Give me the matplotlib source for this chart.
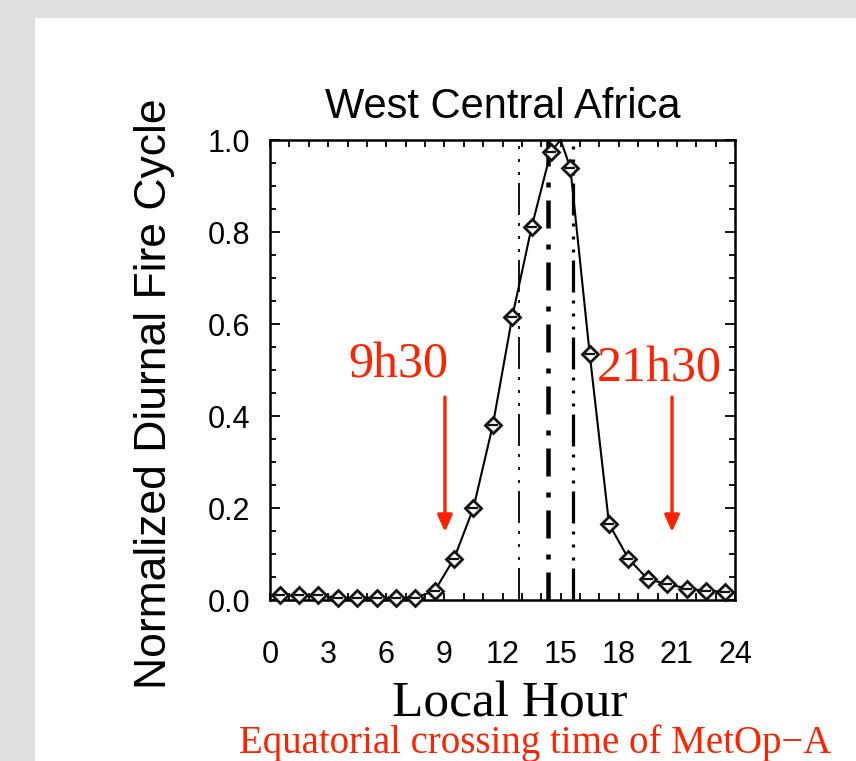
import matplotlib
matplotlib.use("Agg")
import matplotlib.pyplot as plt
from matplotlib.patches import Rectangle
from matplotlib.ticker import MultipleLocator

# ---- data ----
marker_hours = [0.5, 1.5, 2.5, 3.5, 4.5, 5.5, 6.5, 7.5, 8.5, 9.5, 10.5, 11.5,
                12.5, 13.5, 14.5, 15.5, 16.5, 17.5, 18.5, 19.5, 20.5, 21.5, 22.5, 23.5]
marker_values = [0.010, 0.010, 0.010, 0.005, 0.005, 0.005, 0.005, 0.005, 0.020, 0.090,
                 0.200, 0.380, 0.615, 0.810, 0.975, 0.940, 0.535, 0.165, 0.090, 0.045,
                 0.035, 0.025, 0.020, 0.018]
# drawn curve (smooth line through the markers, peaking near 15 h)
curve_hours = [0.0, 0.5, 1.5, 2.5, 3.5, 4.5, 5.5, 6.5, 7.5, 8.5, 9.5, 10.5, 11.5,
               12.5, 13.5, 14.5, 15.0, 15.5, 16.5, 17.5, 18.5, 19.5, 20.5, 21.5,
               22.5, 23.5, 24.0]
curve_values = [0.010, 0.010, 0.010, 0.010, 0.005, 0.005, 0.005, 0.005, 0.005, 0.020,
                0.090, 0.200, 0.380, 0.615, 0.810, 0.975, 1.000, 0.940, 0.535, 0.165,
                0.090, 0.045, 0.035, 0.025, 0.020, 0.018, 0.015]
# vertical reference lines (local hour)
vline_thin_hour = 12.85
vline_thick_hour = 14.35
vline_right_hour = 15.65
# MetOp-A crossing-time annotations
crossing_labels = ["9h30", "21h30"]
crossing_label_x = [6.65, 20.1]
crossing_label_y = [0.483, 0.474]
arrow_x = [9.03, 20.75]
arrow_top = 0.441
arrow_tip = 0.148

xticks = [0, 3, 6, 9, 12, 15, 18, 21, 24]
yticks = [0.0, 0.2, 0.4, 0.6, 0.8, 1.0]

plt.rcParams['lines.scale_dashes'] = False
tick_family, tick_size = 'Liberation Sans', 22

W, H = 856, 761
fig = plt.figure(figsize=(W / 100, H / 100), dpi=100)
fig.patch.set_facecolor('#e0e0e0')
fig.patches.append(Rectangle((35 / W, 0), 1 - 35 / W, 1 - 18 / H,
                             transform=fig.transFigure, facecolor='white',
                             edgecolor='none', zorder=-5))

ax = fig.add_axes([270 / W, 1 - 600 / H, 465 / W, 460 / H])
ax.set_zorder(2)
ax.set_facecolor('white')
ax.set_xlim(0, 24)
ax.set_ylim(0, 1)

# vertical lines
px = 0.72  # points per pixel
ax.axvline(vline_thin_hour, color='black', lw=1.8 * px,
           dashes=(32 * px, 8 * px, 3 * px, 10 * px, 3 * px, 10 * px, 3 * px, 8 * px))
ax.axvline(vline_thick_hour, color='black', lw=4.5 * px,
           dashes=(28 * px, 13 * px, 5 * px, 16 * px))
ax.axvline(vline_right_hour, color='black', lw=3.2 * px,
           dashes=(32 * px, 8 * px, 3 * px, 10 * px, 3 * px, 10 * px, 3 * px, 8 * px))

# curve and markers
ax.plot(curve_hours, curve_values, color='black', lw=1.5, clip_on=False)
ax.plot(marker_hours, marker_values, linestyle='none', marker='D', markersize=8.5,
        markerfacecolor='white', markeredgecolor='#111111', markeredgewidth=2.0,
        clip_on=False, zorder=3)
ax.plot(marker_hours, marker_values, linestyle='none', marker='_', markersize=7,
        markeredgecolor='#111111', markeredgewidth=1.6, clip_on=False, zorder=4)

red = '#ff2200'
for lab, lx, ly in zip(crossing_labels, crossing_label_x, crossing_label_y):
    ax.text(lx, ly, lab, color=red, fontsize=36, family='Liberation Serif',
            ha='center', va='baseline')
for axx in arrow_x:
    ax.annotate('', xy=(axx, arrow_tip), xytext=(axx, arrow_top),
                arrowprops=dict(arrowstyle='-|>,head_length=1.0,head_width=0.45',
                                color=red, lw=2.4, shrinkA=0, shrinkB=0))

# ticks
ax.set_xticks(xticks)
ax.set_yticks(yticks)
ax.set_xticklabels([str(t) for t in xticks])
ax.set_yticklabels([f"{t:.1f}" for t in yticks])
ax.xaxis.set_minor_locator(MultipleLocator(1))
ax.yaxis.set_minor_locator(MultipleLocator(0.05))
ax.tick_params(axis='both', which='both', direction='in', top=True, right=True,
               width=1.3, colors='black')
ax.tick_params(axis='x', which='major', length=5, pad=29, labelsize=tick_size)
ax.tick_params(axis='x', which='minor', length=5)
ax.tick_params(axis='y', which='major', length=7.5, pad=14, labelsize=tick_size)
ax.tick_params(axis='y', which='minor', length=4.5)
for lab in ax.get_xticklabels() + ax.get_yticklabels():
    lab.set_family(tick_family)
for s in ax.spines.values():
    s.set_linewidth(1.8)

ax.set_title("West Central Africa", fontsize=30, family='Liberation Sans', pad=16)

fig.text(155 / W, 1 - 394 / H, "Normalized Diurnal Fire Cycle", rotation=90,
         fontsize=32, family='Liberation Sans', ha='center', va='center')
fig.text(510 / W, 1 - 704 / H, "Local Hour", fontsize=37,
         family='Liberation Serif', ha='center', va='center')
fig.text(535 / W, 1 - 743 / H, "Equatorial crossing time of MetOp\u2212A", fontsize=28,
         family='Liberation Serif', ha='center', va='center', color=red)

fig.savefig('out.png', dpi=100, facecolor=fig.get_facecolor())
